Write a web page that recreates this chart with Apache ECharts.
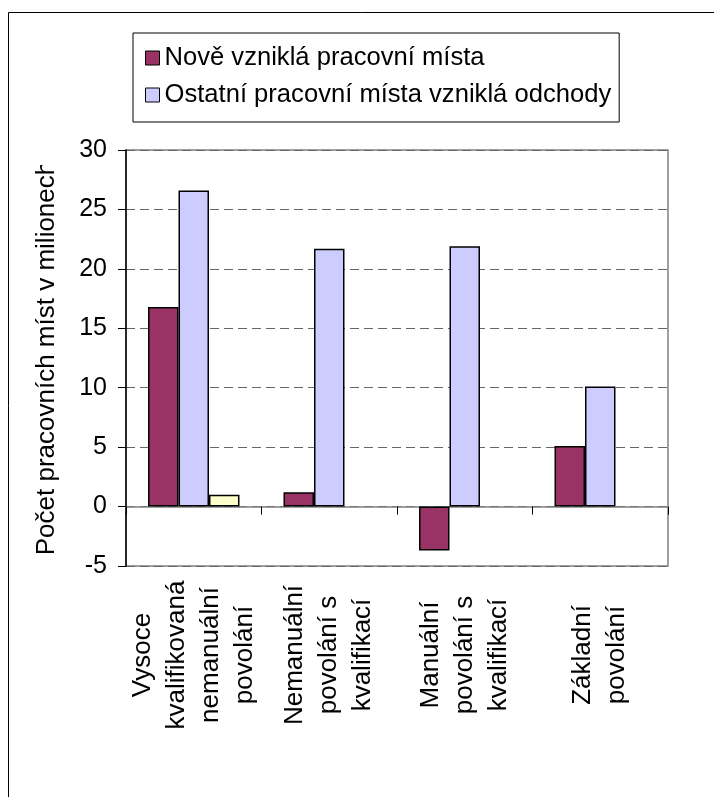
<!DOCTYPE html>
<html>
<head>
<meta charset="utf-8">
<script src="https://cdn.jsdelivr.net/npm/echarts@6/dist/echarts.min.js"></script>
<style>
  html, body { margin: 0; padding: 0; background: #fff; }
  #chart { width: 714px; height: 797px; }
</style>
</head>
<body>
<div id="chart"></div>
<script>
// Occupation groups (category axis)
const categories = [
  'Vysoce\nkvalifikovaná\nnemanuální\npovolání',
  'Nemanuální\npovolání s\nkvalifikací',
  'Manuální\npovolání s\nkvalifikací',
  'Základní\npovolání'
];

// Jobs in millions
const newJobs = [16.8, 1.2, -3.7, 5.1];
const replacementJobs = [26.6, 21.7, 21.9, 10.1];
const extraJobs = [1.0, null, null, null];

const seriesNames = [
  'Nově vzniklá pracovní místa',
  'Ostatní pracovní místa vzniklá odchody',
  'Další pracovní místa'
];

const yTicks = { min: -5, max: 30, step: 5 };
const yAxisTitle = 'Počet pracovních míst v milionech';

const FONT = '"Liberation Sans", Arial, sans-serif';
const chart = echarts.init(document.getElementById('chart'));

const barStyle = (color) => ({
  color: color,
  borderColor: '#000',
  borderWidth: 1.5
});

chart.setOption({
  animation: false,
  textStyle: { fontFamily: FONT, color: '#000' },
  graphic: [
    // outer chart frame
    {
      type: 'rect',
      z: 0,
      shape: { x: 8.5, y: 12.5, width: 760, height: 820 },
      style: { fill: 'none', stroke: '#000', lineWidth: 1 }
    },
    // axis title is clipped at the top of its box
    {
      type: 'rect',
      z: 100,
      shape: { x: 28, y: 130, width: 42, height: 35 },
      style: { fill: '#fff' }
    }
  ],
  legend: {
    data: [seriesNames[0], seriesNames[1]],
    orient: 'vertical',
    left: 133,
    top: 33,
    padding: [12, 8, 14, 12],
    itemGap: 11,
    itemWidth: 14,
    itemHeight: 14,
    icon: 'rect',
    borderColor: '#000',
    borderWidth: 1,
    itemStyle: { borderColor: '#000', borderWidth: 1 },
    textStyle: { fontSize: 25.6, color: '#000', fontFamily: FONT }
  },
  grid: {
    left: 126,
    top: 150,
    width: 542,
    height: 416,
    containLabel: false,
    outerBoundsMode: 'none',
    show: true,
    borderColor: '#808080',
    borderWidth: 1.5,
    backgroundColor: '#fff'
  },
  xAxis: [
    {
      type: 'category',
      data: categories,
      position: 'bottom',
      axisLine: { show: false, onZero: false },
      axisTick: { show: false },
      splitLine: { show: false },
      axisLabel: {
        interval: 0,
        rotate: 90,
        align: 'center',
        verticalAlign: 'middle',
        margin: 89,
        fontSize: 26,
        lineHeight: 34,
        color: '#000',
        fontFamily: FONT
      }
    },
    {
      type: 'category',
      data: categories,
      position: 'bottom',
      axisLine: { show: true, onZero: true, lineStyle: { color: '#808080', width: 1.5 } },
      axisTick: { show: true, length: 8, lineStyle: { color: '#000', width: 1 } },
      axisLabel: { show: false },
      splitLine: { show: false }
    }
  ],
  yAxis: {
    type: 'value',
    min: yTicks.min,
    max: yTicks.max,
    interval: yTicks.step,
    name: yAxisTitle,
    nameLocation: 'middle',
    nameRotate: 90,
    nameGap: 66,
    nameTextStyle: { fontSize: 26, color: '#000', fontFamily: FONT },
    axisLine: { show: true, lineStyle: { color: '#000', width: 1.5 } },
    axisTick: { show: true, length: 8, lineStyle: { color: '#000', width: 1 } },
    axisLabel: { fontSize: 25, color: '#000', margin: 19, fontFamily: FONT },
    splitLine: {
      show: true,
      lineStyle: { color: '#666', width: 1, type: [9, 5] }
    }
  },
  series: [
    {
      name: seriesNames[0],
      type: 'bar',
      data: newJobs,
      barGap: '0%',
      barCategoryGap: '32.5%',
      itemStyle: barStyle('#993366')
    },
    {
      name: seriesNames[1],
      type: 'bar',
      data: replacementJobs,
      barGap: '0%',
      barCategoryGap: '32.5%',
      itemStyle: barStyle('#CCCCFF')
    },
    {
      name: seriesNames[2],
      type: 'bar',
      data: extraJobs,
      barGap: '0%',
      barCategoryGap: '32.5%',
      itemStyle: barStyle('#FFFFCC')
    }
  ]
});
</script>
</body>
</html>
